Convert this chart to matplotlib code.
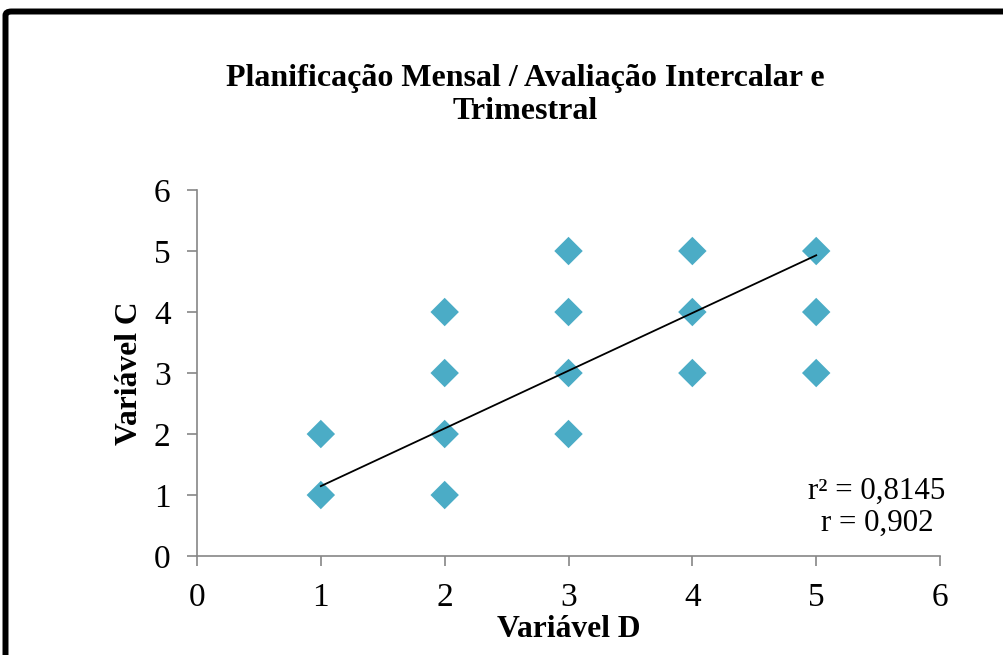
import matplotlib
matplotlib.use("Agg")
import numpy as np
import matplotlib.pyplot as plt
from matplotlib.patches import FancyBboxPatch

plt.rcParams["font.family"] = ["Liberation Serif", "DejaVu Serif"]

# Data
variavel_d = [1, 1, 2, 2, 2, 2, 3, 3, 3, 3, 4, 4, 4, 5, 5, 5]
variavel_c = [1, 2, 1, 2, 3, 4, 2, 3, 4, 5, 3, 4, 5, 3, 4, 5]
trend_slope = 0.946
trend_intercept = 0.20
r2_text = "r² = 0,8145"
r_text = "r = 0,902"
title = "Planificação Mensal / Avaliação Intercalar e\nTrimestral"

marker_color = "#4BACC6"
axis_gray = "#868686"

fig = plt.figure(figsize=(10.04, 6.55), dpi=100)
ax = fig.add_axes([0.1962, 0.1511, 0.9363 - 0.1962, 0.7099 - 0.1511])

ax.scatter(variavel_d, variavel_c, marker="D", s=210, color=marker_color,
           edgecolors="none", zorder=2)

xs = np.array([min(variavel_d), max(variavel_d)])
ax.plot(xs, trend_slope * xs + trend_intercept, color="black", lw=1.3, zorder=3)

ax.set_xlim(0, 6)
ax.set_ylim(0, 6)
ax.set_xticks(range(7))
ax.set_yticks(range(7))
ax.tick_params(labelsize=24, color=axis_gray, length=7, width=1.2)
ax.tick_params(axis="x", pad=12)
ax.tick_params(axis="y", pad=12)
for side in ["top", "right"]:
    ax.spines[side].set_visible(False)
for side in ["left", "bottom"]:
    ax.spines[side].set_color(axis_gray)
    ax.spines[side].set_linewidth(1.2)

ax.set_xlabel("Variável D", fontsize=22.7, fontweight="bold")
ax.set_ylabel("Variável C", fontsize=22.7, fontweight="bold")
ax.xaxis.set_label_coords(0.5, -0.162)
ax.yaxis.set_label_coords(-0.071, 0.5)

ax.text(5.49, 1.06, r2_text, fontsize=22.3, ha="center", va="center")
ax.text(5.49, 0.535, r_text, fontsize=22.3, ha="center", va="center")

fig.text(0.523, 0.855, title, fontsize=23, fontweight="bold",
         ha="center", va="center", linespacing=1.22)

# black outer frame
frame = FancyBboxPatch((5.5 / 1004, -0.05), 1.1, 1 - 11.5 / 655 + 0.05,
                       boxstyle="round,pad=0,rounding_size=0.006",
                       transform=fig.transFigure, fill=False,
                       edgecolor="black", linewidth=4.3, clip_on=False)
fig.patches.append(frame)

fig.savefig("out.png", dpi=100)
